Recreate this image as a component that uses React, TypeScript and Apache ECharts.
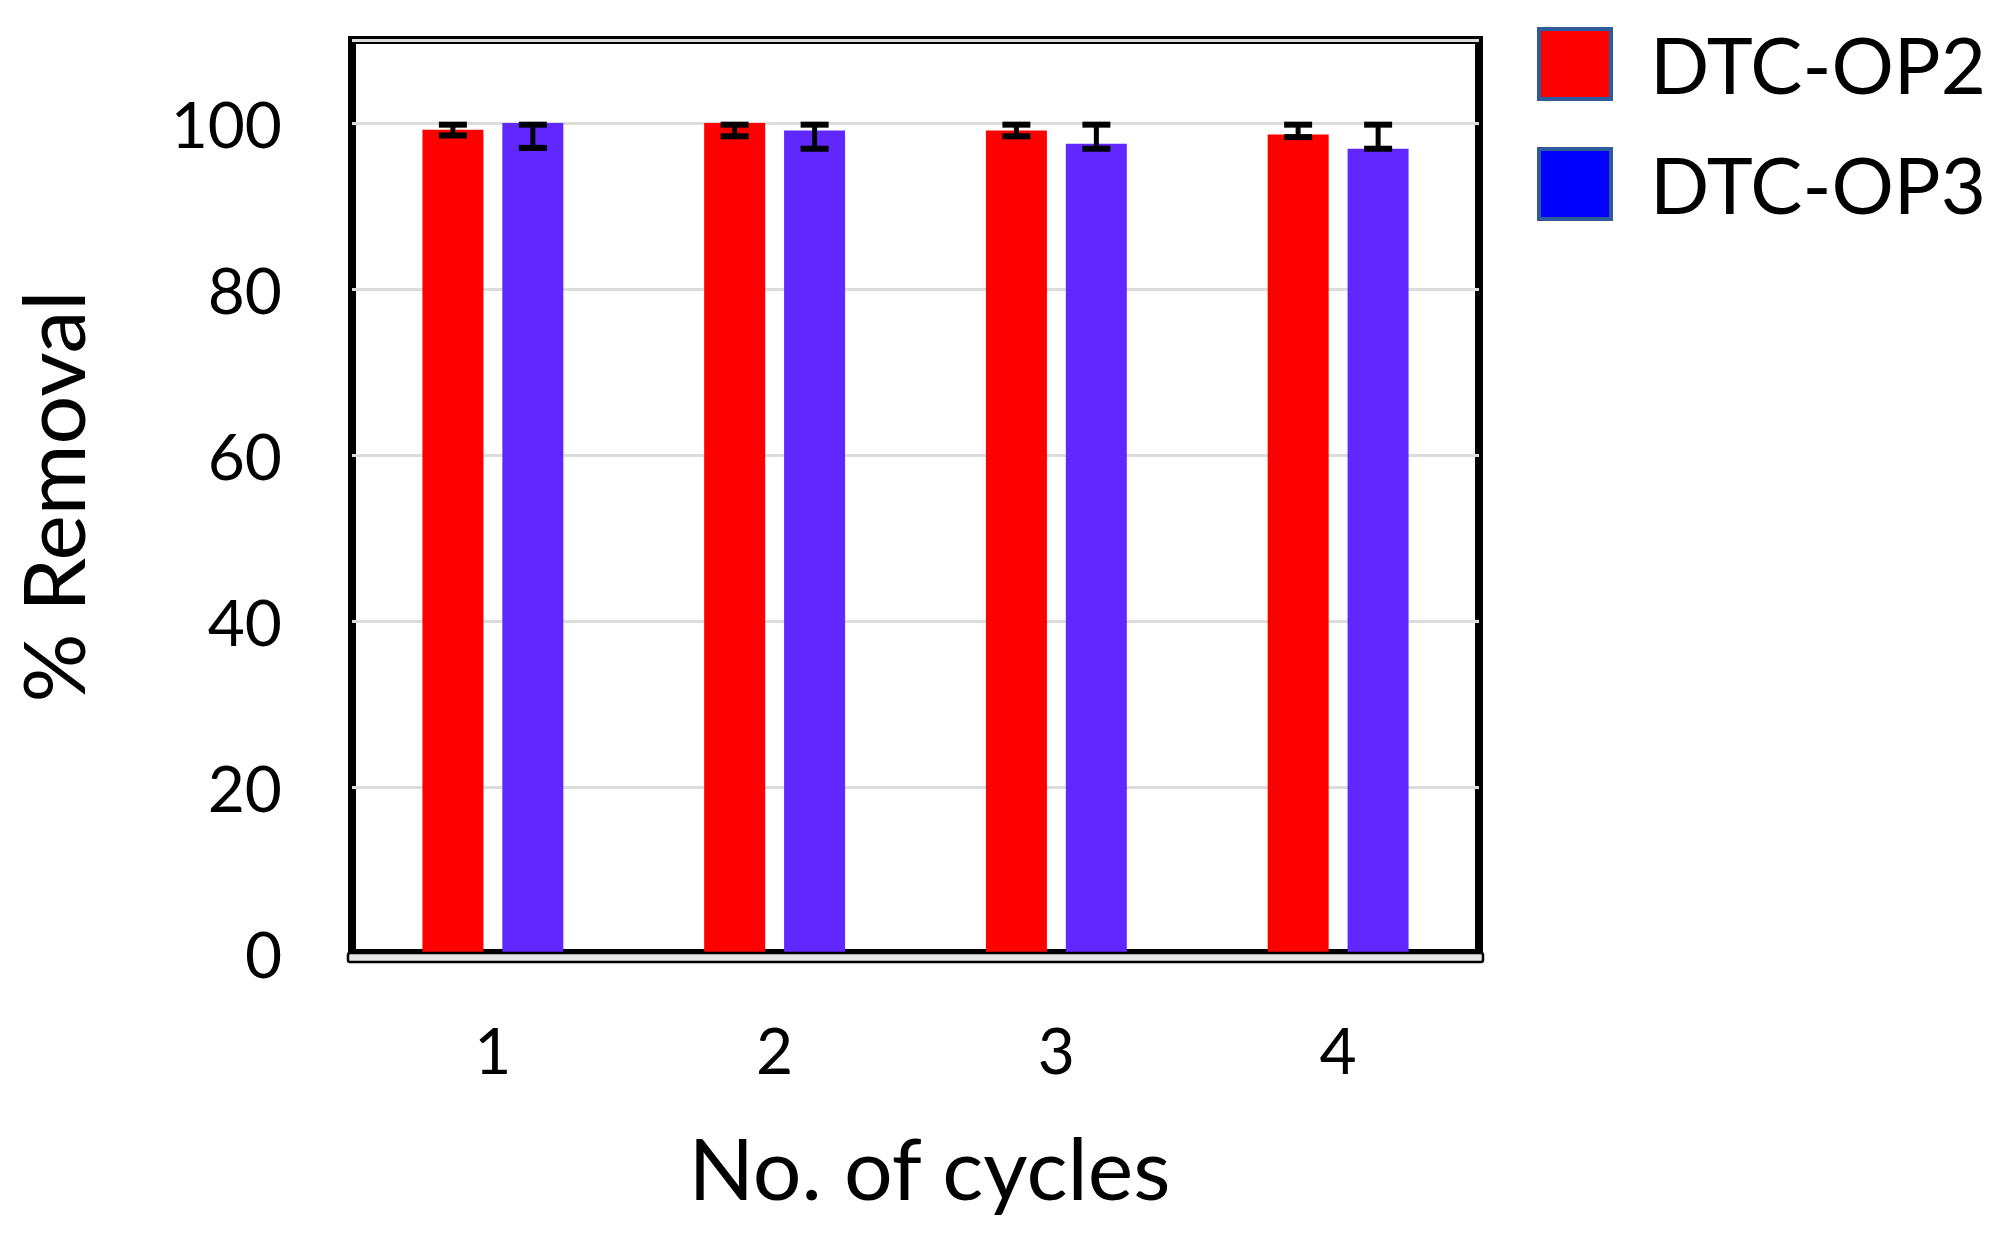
import React, { useEffect, useRef } from "react";
import * as echarts from "echarts";

const categories = ["1", "2", "3", "4"];
const seriesNames = ["DTC-OP2", "DTC-OP3"];
const op2Values = [99.2, 100, 99.1, 98.6];
const op3Values = [100, 99.1, 97.5, 96.9];
const op2Low = [98.5, 98.4, 98.4, 98.3];
const op2High = [99.8, 99.8, 99.8, 99.8];
const op3Low = [97.0, 96.9, 96.9, 96.9];
const op3High = [99.8, 99.8, 99.8, 99.8];
const yMin = 0;
const yMax = 110;
const yInterval = 20;

const W = 2004;
const H = 1237;
const GRID_LEFT = 352;
const GRID_RIGHT = 525;
const GRID_TOP = 40;
const GRID_BOTTOM = 284;
const BAR_W = 61;
const BAR_GAP = 19;
const FONT = "Lato, 'Open Sans', sans-serif";

function errorSeries(low: number[], high: number[], offset: number) {
  return {
    type: "custom",
    z: 10,
    silent: true,
    data: low.map((l, i) => [i, l, high[i]]),
    renderItem: (params: any, api: any) => {
      const idx = api.value(0);
      const top = api.coord([idx, api.value(2)]);
      const bot = api.coord([idx, api.value(1)]);
      const cx = top[0] + offset;
      const hw = 14;
      const style = { stroke: "#000", lineWidth: 6 };
      return {
        type: "group",
        children: [
          { type: "line", shape: { x1: cx, y1: top[1], x2: cx, y2: bot[1] }, style: { stroke: "#000", lineWidth: 5 } },
          { type: "line", shape: { x1: cx - hw, y1: top[1], x2: cx + hw, y2: top[1] }, style },
          { type: "line", shape: { x1: cx - hw, y1: bot[1], x2: cx + hw, y2: bot[1] }, style },
        ],
      };
    },
  };
}

export default function App() {
  const ref = useRef<HTMLDivElement>(null);
  useEffect(() => {
    document.body.style.margin = "0";
    document.body.style.overflow = "hidden";
    const chart = echarts.init(ref.current!, null, { renderer: "svg" });
    const off = (BAR_W + BAR_GAP) / 2;
    chart.setOption({
      animation: false,
      backgroundColor: "#ffffff",
      textStyle: { fontFamily: FONT },
      grid: {
        left: GRID_LEFT,
        right: GRID_RIGHT,
        top: GRID_TOP,
        bottom: GRID_BOTTOM,
        show: true,
        borderColor: "#000",
        borderWidth: 8,
        backgroundColor: "transparent",
      },
      legend: {
        orient: "vertical",
        left: 1532,
        top: 20,
        itemWidth: 72,
        itemHeight: 70,
        itemGap: 42,
        icon: "rect",
        selectedMode: false,
        textStyle: { fontFamily: FONT, fontSize: 78, color: "#000", padding: [0, 0, 0, 34] },
        data: [
          { name: seriesNames[0], itemStyle: { color: "#ff0000", borderColor: "#2e5c9a", borderWidth: 4 } },
          { name: seriesNames[1], itemStyle: { color: "#0000ff", borderColor: "#2e5c9a", borderWidth: 4 } },
        ],
      },
      xAxis: {
        type: "category",
        data: categories,
        boundaryGap: true,
        name: "No. of cycles",
        nameLocation: "middle",
        nameGap: 170,
        nameTextStyle: { fontFamily: FONT, fontSize: 86, color: "#000", padding: [0, 0, 0, 28] },
        axisLine: { show: true, lineStyle: { color: "#000", width: 3 } },
        axisTick: { show: false },
        axisLabel: { fontFamily: FONT, fontSize: 64, color: "#000", margin: 64 },
        splitLine: { show: false },
      },
      yAxis: {
        type: "value",
        min: yMin,
        max: yMax,
        interval: yInterval,
        name: "% Removal",
        nameLocation: "middle",
        nameGap: 258,
        nameRotate: 90,
        nameTextStyle: { fontFamily: FONT, fontSize: 86, color: "#000" },
        axisLine: { show: false },
        axisTick: { show: false },
        axisLabel: {
          fontFamily: FONT,
          fontSize: 64,
          color: "#000",
          margin: 70,
          formatter: (v: number) => (v > 100 ? "" : String(v)),
        },
        splitLine: { show: true, lineStyle: { color: "#dcdcdc", width: 3 } },
      },
      graphic: [
        {
          type: "rect",
          shape: { x: GRID_LEFT - 4, y: H - GRID_BOTTOM, width: W - GRID_LEFT - GRID_RIGHT + 8, height: 9, r: 2 },
          style: { fill: "#e6e6e6", stroke: "#000", lineWidth: 2.5 },
          z: 20,
        },
      ],
      series: [
        {
          name: seriesNames[0],
          type: "bar",
          data: op2Values,
          barWidth: BAR_W,
          barGap: `${Math.round((BAR_GAP / BAR_W) * 100)}%`,
          itemStyle: { color: "#ff0000" },
          z: 2,
        },
        {
          name: seriesNames[1],
          type: "bar",
          data: op3Values,
          barWidth: BAR_W,
          itemStyle: { color: "#6028ff" },
          z: 2,
        },
        errorSeries(op2Low, op2High, -off),
        errorSeries(op3Low, op3High, off),
      ],
    });
    return () => chart.dispose();
  }, []);
  return <div ref={ref} style={{ width: W, height: H }} />;
}
